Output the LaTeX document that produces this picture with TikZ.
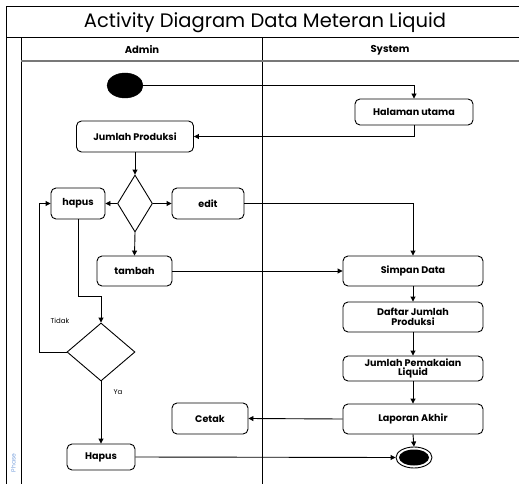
\documentclass[tikz,border=0pt]{standalone}
\usepackage{fontspec}
\setmainfont{Poppins}
\usetikzlibrary{arrows.meta,shapes.geometric,calc}

\definecolor{laneline}{RGB}{120,120,120}
\definecolor{phaseblue}{RGB}{120,160,220}

\tikzset{
  act/.style={draw, rounded corners=5pt, fill=white, line width=0.9pt,
    align=center, inner sep=1pt, font=\fontsize{9.6}{9.6}\selectfont\bfseries},
  decision/.style={draw, diamond, fill=white, line width=0.9pt, inner sep=0pt},
  flow/.style={line width=0.9pt, -{Triangle[length=5pt,width=5pt]}},
  guard/.style={font=\fontsize{7}{7}\selectfont},
  frameline/.style={line width=1pt},
}

\begin{document}
\begin{tikzpicture}[x=1pt,y=-1pt]
\clip (0,0) rectangle (519,484);
\useasboundingbox (0,0) rectangle (519,484);

% swimlane frame
\draw[frameline] (6,484) -- (6,7) -- (530,7);
\draw[frameline] (6,38) -- (530,38);
\draw[frameline] (21,38) -- (21,490);
\draw[frameline] (262,38) -- (262,490);
\draw[line width=1.2pt, laneline] (21,61) -- (530,61);

\node (title) at (265,22.5) {\fontsize{19.5}{19.5}\selectfont Activity Diagram Data Meteran Liquid};
\node[font=\fontsize{10}{10}\selectfont\bfseries] (laneA) at (142,50) {Admin};
\node[font=\fontsize{10}{10}\selectfont\bfseries] (laneS) at (390,50) {System};
\node[rotate=90, text=phaseblue, font=\fontsize{6}{6}\selectfont] (phase) at (13.5,463) {Phase};

% start and end
\node[draw, ellipse, fill=black, minimum width=36pt, minimum height=25pt, inner sep=0pt] (start) at (125,85.5) {};
\node[draw, ellipse, line width=0.9pt, minimum width=36pt, minimum height=21pt, inner sep=0pt] (end) at (414,457.5) {};
\node[ellipse, fill=black, minimum width=30pt, minimum height=16pt, inner sep=0pt] (endin) at (414,457.5) {};

% actions
\node[act, minimum width=118pt, minimum height=26pt] (hal) at (414,112) {Halaman utama};
\node[act, minimum width=117pt, minimum height=31pt] (jp) at (135,136.5) {Jumlah Produksi};
\node[decision, minimum width=35pt, minimum height=57pt] (d1) at (135,203.5) {};
\node[act, minimum width=54pt, minimum height=31pt] (hapus) at (78,203.5) {hapus};
\node[act, minimum width=72pt, minimum height=31pt] (edit) at (208,203.5) {edit};
\node[act, minimum width=75pt, minimum height=30pt] (tambah) at (134.5,271) {tambah};
\node[act, minimum width=140pt, minimum height=30pt] (simpan) at (413,271) {Simpan Data};
\node[act, minimum width=140pt, minimum height=30pt] (daftar) at (413,317) {Daftar Jumlah\\Produksi};
\node[act, minimum width=140pt, minimum height=25pt] (jpl) at (413,368.5) {Jumlah Pemakaian\\Liquid};
\node[act, minimum width=140pt, minimum height=30pt] (lap) at (413,419) {Laporan Akhir};
\node[act, minimum width=76pt, minimum height=31pt] (cetak) at (210,418.5) {Cetak};
\node[decision, minimum width=68pt, minimum height=58pt] (d2) at (101,352) {};
\node[act, minimum width=68pt, minimum height=26pt] (hps) at (101,457) {Hapus};

\coordinate (bend) at (101,296);
\coordinate (loop) at (39,352);

% flows
\draw[flow] (start.east) -| (hal.north);
\draw[flow] (hal.south) |- (jp.east);
\draw[flow] (jp.south) -- (d1.north);
\draw[flow] (d1.west) -- (hapus.east);
\draw[flow] (d1.east) -- (edit.west);
\draw[flow] (d1.south) -- (tambah.north);
\draw[flow] (edit.east) -| (simpan.north);
\draw[flow] (tambah.east) -- (simpan.west);
\draw[flow] (hapus.south) |- (bend) -- (d2.north);
\draw[flow] (d2.west) -- (loop) |- (hapus.west);
\draw[flow] (d2.south) -- (hps.north);
\draw[flow] (simpan.south) -- (daftar.north);
\draw[flow] (daftar.south) -- (jpl.north);
\draw[flow] (jpl.south) -- (lap.north);
\draw[flow] (lap.south) -- (end.north);
\draw[flow] (lap.west) -- (cetak.east);
\draw[flow] (hps.east) -- (end.west);

\node[guard] (tidak) at (60,320.5) {Tidak};
\node[guard] (ya) at (118,392.5) {Ya};
\end{tikzpicture}
\end{document}
